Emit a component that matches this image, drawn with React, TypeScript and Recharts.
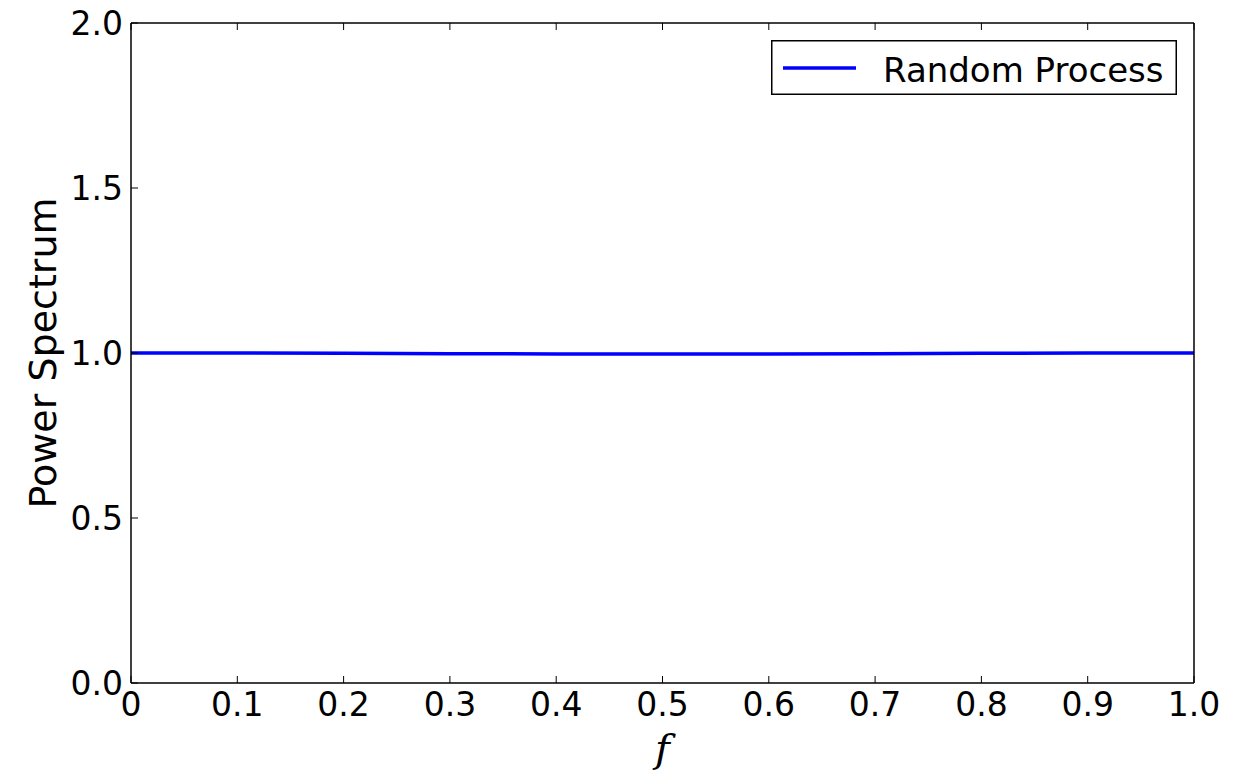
import { LineChart, Line, XAxis, YAxis, Legend } from "recharts"

const freqs = [0, 0.1, 0.2, 0.3, 0.4, 0.5, 0.6, 0.7, 0.8, 0.9, 1.0]
const power = [1.0, 1.0, 0.999, 0.998, 0.997, 0.997, 0.997, 0.998, 0.999, 1.0, 1.0]
const xTicks = [0, 0.1, 0.2, 0.3, 0.4, 0.5, 0.6, 0.7, 0.8, 0.9, 1.0]
const yTicks = [0, 0.5, 1.0, 1.5, 2.0]
const seriesName = "Random Process"

const data = freqs.map((f, i) => ({ f, power: power[i] }))

const FONT = "DejaVu Sans"
const TICK_LEN = 7

const fmtX = (v: number) => (v === 0 ? "0" : v.toFixed(1))

const BottomTick = (props: any) => {
  const { x, y, payload } = props
  return (
    <g>
      <line x1={x} y1={y} x2={x} y2={y - TICK_LEN} stroke="#000" strokeWidth={1} />
      <text x={x} y={y + 33} textAnchor="middle" fontFamily={FONT} fontSize={33} fill="#000">
        {fmtX(payload.value)}
      </text>
    </g>
  )
}

const TopTick = (props: any) => {
  const { x, y } = props
  return <line x1={x} y1={y} x2={x} y2={y + TICK_LEN} stroke="#000" strokeWidth={1} />
}

const LeftTick = (props: any) => {
  const { x, y, payload } = props
  return (
    <g>
      <line x1={x} y1={y} x2={x + TICK_LEN} y2={y} stroke="#000" strokeWidth={1} />
      <text x={x - 8} y={y + 12} textAnchor="end" fontFamily={FONT} fontSize={33} fill="#000">
        {payload.value.toFixed(1)}
      </text>
    </g>
  )
}

const RightTick = (props: any) => {
  const { x, y } = props
  return <line x1={x} y1={y} x2={x - TICK_LEN} y2={y} stroke="#000" strokeWidth={1} />
}

const LegendBox = () => (
  <svg width={406} height={55} style={{ display: "block" }}>
    <rect x={0.75} y={0.75} width={404.5} height={53.5} fill="#fff" stroke="#000" strokeWidth={1.5} />
    <line x1={12} y1={28} x2={85} y2={28} stroke="#0000ff" strokeWidth={3.5} />
    <text x={112} y={42} fontFamily={FONT} fontSize={34} fill="#000">
      {seriesName}
    </text>
  </svg>
)

export default function App() {
  return (
    <div style={{ position: "absolute", left: 0, top: 0, background: "#fff" }}>
      <LineChart width={1243} height={779} data={data} margin={{ top: 22, right: 48, bottom: 36, left: 51 }}>
        <XAxis
          dataKey="f"
          type="number"
          domain={[0, 1]}
          ticks={xTicks}
          height={60}
          tickSize={0}
          tickMargin={0}
          tickLine={false}
          axisLine={{ stroke: "#000", strokeWidth: 1.5 }}
          tick={<BottomTick />}
          interval={0}
          label={(props: any) => {
            const vb = props.viewBox
            return (
              <text
                x={vb.x + vb.width / 2}
                y={762}
                textAnchor="middle"
                fontFamily="DejaVu Serif"
                fontStyle="italic"
                fontSize={40}
                fill="#000"
              >
                f
              </text>
            )
          }}
        />
        <XAxis
          xAxisId="top"
          orientation="top"
          dataKey="f"
          type="number"
          domain={[0, 1]}
          ticks={xTicks}
          height={1}
          tickSize={0}
          tickMargin={0}
          tickLine={false}
          axisLine={{ stroke: "#000", strokeWidth: 1.5 }}
          tick={<TopTick />}
          interval={0}
        />
        <YAxis
          type="number"
          domain={[0, 2]}
          ticks={yTicks}
          width={80}
          tickSize={0}
          tickMargin={0}
          tickLine={false}
          axisLine={{ stroke: "#000", strokeWidth: 1.5 }}
          tick={<LeftTick />}
          interval={0}
          label={(props: any) => {
            const vb = props.viewBox
            const cy = vb.y + vb.height / 2
            return (
              <text
                x={43}
                y={cy}
                transform={`rotate(-90, 43, ${cy})`}
                textAnchor="middle"
                dominantBaseline="central"
                fontFamily={FONT}
                fontSize={38}
                fill="#000"
              >
                Power Spectrum
              </text>
            )
          }}
        />
        <YAxis
          yAxisId="right"
          orientation="right"
          type="number"
          domain={[0, 2]}
          ticks={yTicks}
          width={1}
          tickSize={0}
          tickMargin={0}
          tickLine={false}
          axisLine={{ stroke: "#000", strokeWidth: 1.5 }}
          tick={<RightTick />}
          interval={0}
        />
        <Legend
          layout="horizontal"
          verticalAlign="middle"
          align="center"
          content={<LegendBox />}
          wrapperStyle={{ position: "absolute", top: 40, left: 771, width: 406, height: 55 }}
        />
        <Line
          type="linear"
          dataKey="power"
          name={seriesName}
          stroke="#0000ff"
          strokeWidth={3.5}
          dot={false}
          activeDot={false}
          isAnimationActive={false}
        />
      </LineChart>
    </div>
  )
}
